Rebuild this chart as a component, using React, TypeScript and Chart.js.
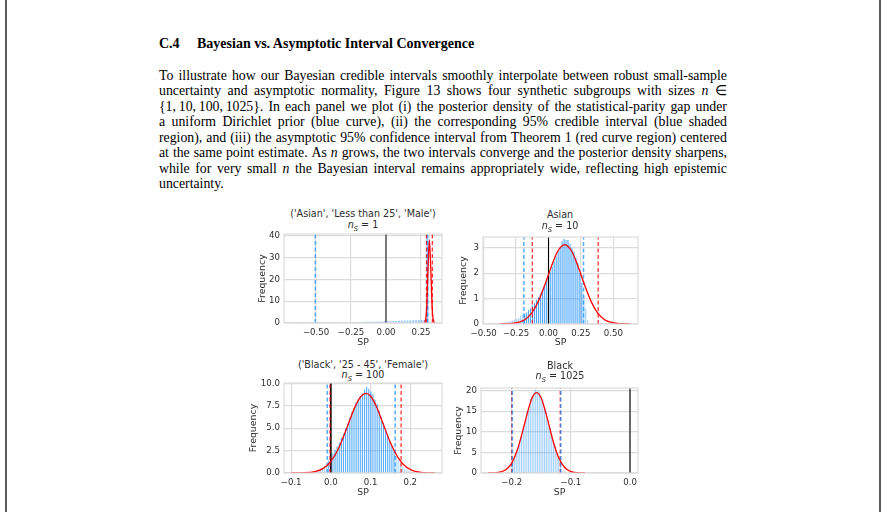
import React, { useEffect, useRef } from "react";
import { Chart, registerables } from "chart.js";

Chart.register(...registerables);

// ---------------- Text ----------------
const headingNum = "C.4";
const headingText = "Bayesian vs. Asymptotic Interval Convergence";
const bodyLines = [
  "To illustrate how our Bayesian credible intervals smoothly interpolate between robust small-sample",
  "uncertainty and asymptotic normality, Figure 13 shows four synthetic subgroups with sizes $n ∈",
  "{1,\u200910,\u2009100,\u20091025}. In each panel we plot (i) the posterior density of the statistical-parity gap under",
  "a uniform Dirichlet prior (blue curve), (ii) the corresponding 95% credible interval (blue shaded",
  "region), and (iii) the asymptotic 95% confidence interval from Theorem 1 (red curve region) centered",
  "at the same point estimate. As $n grows, the two intervals converge and the posterior density sharpens,",
  "while for very small $n the Bayesian interval remains appropriately wide, reflecting high epistemic",
  "uncertainty.",
];

// ---------------- Panel A ----------------
const titleA = "('Asian', 'Less than 25', 'Male')";
const nA = "1";
const histStartA = -0.689;
const binWidthA = 0.0203;
const histA = [
  0.03, 0.02, 0.04, 0.05, 0.05, 0.06, 0.08, 0.08, 0.1, 0.1, 0.12,
  0.15, 0.16, 0.18, 0.2, 0.22, 0.25, 0.27, 0.3, 0.32, 0.35,
  0.38, 0.4, 0.43, 0.46, 0.5, 0.52, 0.56, 0.6, 0.63, 0.66,
  0.7, 0.74, 0.78, 0.82, 0.86, 0.9, 0.95, 1.0, 1.04, 1.08,
  1.12, 1.16, 1.2, 1.25, 1.3, 1.35, 1.42,
  38.8, 0.4,
];
const curveXA = [0.27, 0.28, 0.29, 0.3, 0.31, 0.32, 0.33, 0.34, 0.35];
const curveYA = [0.03, 0.8, 6.5, 24.5, 38, 24.5, 6.5, 0.8, 0.03];
const credibleA = [-0.505, 0.298];
const asymptoticA = [0.289, 0.331];
const xRangeA = [-0.729, 0.4];
const yMaxA = 40.74;
const xTicksA = [-0.5, -0.25, 0, 0.25];
const yTicksA = [0, 10, 20, 30, 40];

// ---------------- Panel B ----------------
const titleB = "Asian";
const nB = "10";
const histStartB = -0.45;
const binWidthB = 0.0152;
const histB = [
  0.02, 0.0, 0.02, 0.03, 0.03, 0.05, 0.05, 0.07, 0.08, 0.1,
  0.12, 0.15, 0.18, 0.2, 0.25, 0.3, 0.35, 0.4, 0.45, 0.55,
  0.62, 0.72, 0.82, 0.95, 1.05, 1.2, 1.35, 1.5, 1.7, 1.9,
  2.05, 2.25, 2.45, 2.65, 2.85, 3.0, 3.25, 3.35, 3.3, 3.3,
  3.15, 3.0, 2.85, 2.6, 2.4, 2.0, 1.6, 1.1, 0.6, 0.15,
];
const curveXB = [-0.38, -0.33, -0.28, -0.23, -0.18, -0.13, -0.08, -0.03, 0.02, 0.07, 0.125, 0.18, 0.23, 0.28, 0.33, 0.38, 0.43, 0.48, 0.53, 0.58, 0.63];
const curveYB = [0.0, 0.01, 0.02, 0.07, 0.18, 0.43, 0.87, 1.51, 2.23, 2.85, 3.12, 2.85, 2.23, 1.51, 0.87, 0.43, 0.18, 0.07, 0.02, 0.01, 0.0];
const credibleB = [-0.19, 0.27];
const asymptoticB = [-0.125, 0.383];
const xRangeB = [-0.505, 0.69];
const yMaxB = 3.42;
const xTicksB = [-0.5, -0.25, 0, 0.25, 0.5];
const yTicksB = [0, 1, 2, 3];

// ---------------- Panel C ----------------
const titleC = "('Black', '25 - 45', 'Female')";
const nC = "100";
const histStartC = -0.045;
const binWidthC = 0.0053;
const histC = [
  0.05, 0.1, 0.2, 0.35, 0.6, 0.8, 1.0, 1.4, 1.8, 2.2,
  2.6, 3.0, 3.4, 3.9, 4.4, 5.0, 5.5, 6.2, 6.8, 7.3,
  7.9, 8.3, 8.6, 8.9, 9.3, 9.6, 9.4, 9.1, 8.8, 8.2,
  7.7, 7.0, 6.3, 5.6, 4.9, 4.3, 3.6, 3.0, 2.4, 1.9,
  1.4, 1.0, 0.7, 0.45, 0.3, 0.2, 0.12, 0.07, 0.04, 0.02,
];
const curveXC = [-0.1, -0.07, -0.04, -0.02, 0.0, 0.02, 0.04, 0.06, 0.075, 0.088, 0.1, 0.115, 0.13, 0.15, 0.17, 0.19, 0.21, 0.235, 0.262];
const curveYC = [0.0, 0.02, 0.15, 0.49, 1.3, 2.8, 5.0, 7.3, 8.5, 8.9, 8.6, 7.4, 5.7, 3.4, 1.67, 0.66, 0.22, 0.04, 0.0];
const credibleC = [-0.009, 0.162];
const asymptoticC = [-0.002, 0.177];
const xRangeC = [-0.118, 0.28];
const yMaxC = 10.05;
const xTicksC = [-0.1, 0, 0.1, 0.2];
const yTicksC = [0, 2.5, 5, 7.5, 10];

// ---------------- Panel D ----------------
const titleD = "Black";
const nD = "1025";
const histStartD = -0.2;
const binWidthD = 0.003;
const histD = [
  2.7, 3.9, 5.1, 6.0, 7.9, 9.1, 11.2, 12.6, 14.9, 16.0,
  17.9, 18.6, 19.9, 20.3, 19.8, 19.9, 18.7, 17.9, 16.1, 14.8,
  12.7, 11.1, 9.4, 7.5, 6.3, 4.8, 3.9, 2.8,
];
const curveXD = [-0.24, -0.225, -0.21, -0.2, -0.19, -0.18, -0.17, -0.165, -0.158, -0.15, -0.14, -0.13, -0.12, -0.11, -0.1, -0.09, -0.076];
const curveYD = [0.0, 0.09, 0.78, 2.4, 5.8, 11.0, 16.4, 18.4, 19.5, 18.1, 13.3, 7.7, 3.5, 1.27, 0.35, 0.08, 0.0];
const credibleD = [-0.199, -0.117];
const asymptoticD = [-0.2, -0.118];
const xRangeD = [-0.252, 0.0135];
const yMaxD = 20.6;
const xTicksD = [-0.2, -0.1, 0];
const yTicksD = [0, 5, 10, 15, 20];

// ---------------- Specs (built from the arrays) ----------------
type Spec = {
  title: string; n: string;
  histStart: number; binWidth: number; hist: number[];
  curveX: number[]; curveY: number[];
  credible: number[]; asymptotic: number[];
  xRange: number[]; yMax: number;
  xTicks: number[]; yTicks: number[]; xDec: number; yDec: number;
};
const specA: Spec = { title: titleA, n: nA, histStart: histStartA, binWidth: binWidthA, hist: histA, curveX: curveXA, curveY: curveYA, credible: credibleA, asymptotic: asymptoticA, xRange: xRangeA, yMax: yMaxA, xTicks: xTicksA, yTicks: yTicksA, xDec: 2, yDec: 0 };
const specB: Spec = { title: titleB, n: nB, histStart: histStartB, binWidth: binWidthB, hist: histB, curveX: curveXB, curveY: curveYB, credible: credibleB, asymptotic: asymptoticB, xRange: xRangeB, yMax: yMaxB, xTicks: xTicksB, yTicks: yTicksB, xDec: 2, yDec: 0 };
const specC: Spec = { title: titleC, n: nC, histStart: histStartC, binWidth: binWidthC, hist: histC, curveX: curveXC, curveY: curveYC, credible: credibleC, asymptotic: asymptoticC, xRange: xRangeC, yMax: yMaxC, xTicks: xTicksC, yTicks: yTicksC, xDec: 1, yDec: 1 };
const specD: Spec = { title: titleD, n: nD, histStart: histStartD, binWidth: binWidthD, hist: histD, curveX: curveXD, curveY: curveYD, credible: credibleD, asymptotic: asymptoticD, xRange: xRangeD, yMax: yMaxD, xTicks: xTicksD, yTicks: yTicksD, xDec: 1, yDec: 0 };

// ---------------- Layout / style ----------------
type Layout = {
  left: number; top: number; w: number; h: number;
  yAxisW: number; xAxisH: number; padTop: number; padRight: number;
  titleCx: number; title1Cy: number; title2Cy: number;
  barIn: string; barOut: string; barFrac: number;
  zeroColor: string; zeroWidth: number;
};
const layoutA: Layout = { left: 257, top: 224, w: 199, h: 124, yAxisW: 27, xAxisH: 25, padTop: 10, padRight: 14, titleCx: 363, title1Cy: 214, title2Cy: 225, barIn: "rgba(30,144,255,0.55)", barOut: "rgba(30,144,255,0.38)", barFrac: 0.6, zeroColor: "rgba(0,0,0,0.6)", zeroWidth: 1.6 };
const layoutB: Layout = { left: 458, top: 227, w: 194, h: 121, yAxisW: 25, xAxisH: 24, padTop: 10, padRight: 14, titleCx: 560, title1Cy: 215, title2Cy: 226, barIn: "rgba(30,144,255,0.8)", barOut: "rgba(30,144,255,0.45)", barFrac: 0.55, zeroColor: "#000", zeroWidth: 1.1 };
const layoutC: Layout = { left: 248, top: 373, w: 208, h: 125, yAxisW: 36, xAxisH: 25, padTop: 10, padRight: 14, titleCx: 363, title1Cy: 365, title2Cy: 375, barIn: "rgba(30,144,255,0.72)", barOut: "rgba(30,144,255,0.38)", barFrac: 0.55, zeroColor: "#000", zeroWidth: 1.6 };
const layoutD: Layout = { left: 453, top: 378, w: 199, h: 120, yAxisW: 28, xAxisH: 25, padTop: 10, padRight: 14, titleCx: 560, title1Cy: 366, title2Cy: 376, barIn: "rgba(30,144,255,0.42)", barOut: "rgba(30,144,255,0.25)", barFrac: 0.6, zeroColor: "#000", zeroWidth: 1.1 };

const SANS = "'DejaVu Sans', sans-serif";
const SERIF = "'Liberation Serif', 'Times New Roman', serif";
const GRID = "#dcdcdc";
const TEXT = "#2e2e2e";
const BLUE_DASH = "rgba(30,144,255,0.75)";
const RED_DASH = "rgba(255,0,0,0.85)";
const DASH = [4, 2.5];

const fmt = (v: number, dec: number) => {
  const s = Math.abs(v).toFixed(dec);
  return (v < -1e-9 ? "\u2212" : "") + s;
};

const framePlugin = {
  id: "frame",
  afterDatasetsDraw(chart: any) {
    const { ctx, chartArea: a } = chart;
    ctx.save();
    ctx.strokeStyle = GRID;
    ctx.lineWidth = 1.2;
    ctx.strokeRect(a.left, a.top, a.right - a.left, a.bottom - a.top);
    ctx.restore();
  },
};

function Panel({ spec, layout }: { spec: Spec; layout: Layout }) {
  const ref = useRef<HTMLCanvasElement | null>(null);
  useEffect(() => {
    const canvas = ref.current;
    if (!canvas) return;
    const centers = spec.hist.map((_, i) => spec.histStart + (i + 0.5) * spec.binWidth);
    const barData = spec.hist.map((h, i) => ({ x: centers[i], y: h }));
    const barColors = centers.map((c) =>
      c >= spec.credible[0] && c <= spec.credible[1] ? layout.barIn : layout.barOut
    );
    const vline = (x: number, color: string, dash: number[], width: number, order: number) => ({
      type: "line" as const,
      data: [{ x, y: 0 }, { x, y: spec.yMax }],
      borderColor: color,
      borderWidth: width,
      borderDash: dash,
      pointRadius: 0,
      fill: false,
      order,
    });
    const curve = spec.curveX.map((x, i) => ({ x, y: spec.curveY[i] }));
    const chart = new Chart(canvas, {
      type: "bar",
      data: {
        datasets: [
          {
            type: "bar",
            data: barData,
            backgroundColor: barColors,
            borderWidth: 0,
            barPercentage: 1,
            categoryPercentage: layout.barFrac,
            order: 9,
          } as any,
          vline(0, layout.zeroColor, [], layout.zeroWidth, 8),
          vline(spec.credible[0], BLUE_DASH, DASH, 1.5, 6),
          vline(spec.credible[1], BLUE_DASH, DASH, 1.5, 6),
          vline(spec.asymptotic[0], RED_DASH, DASH, 1.2, 7),
          vline(spec.asymptotic[1], RED_DASH, DASH, 1.2, 7),
          {
            type: "line",
            data: curve,
            borderColor: "#ff0000",
            borderWidth: 1.3,
            pointRadius: 0,
            fill: false,
            cubicInterpolationMode: "monotone",
            order: 1,
          } as any,
        ],
      },
      options: {
        animation: false,
        responsive: false,
        devicePixelRatio: 1,
        layout: { padding: { top: layout.padTop, right: layout.padRight, left: 0, bottom: 0 } },
        plugins: { legend: { display: false }, tooltip: { enabled: false }, title: { display: false } },
        scales: {
          x: {
            type: "linear",
            min: spec.xRange[0],
            max: spec.xRange[1],
            offset: false,
            grid: { color: GRID, lineWidth: 1.2, drawTicks: false, offset: false },
            border: { display: false },
            ticks: {
              font: { family: SANS, size: 8.6 },
              color: TEXT,
              padding: 4.5,
              maxRotation: 0,
              autoSkip: false,
              callback: (v: any) => fmt(Number(v), spec.xDec),
            },
            title: { display: true, text: "SP", font: { family: SANS, size: 9.4 }, color: TEXT, padding: 0 },
            afterBuildTicks: (s: any) => {
              s.ticks = spec.xTicks.map((v) => ({ value: v }));
            },
            afterFit: (s: any) => {
              s.height = layout.xAxisH;
            },
          },
          y: {
            type: "linear",
            min: 0,
            max: spec.yMax,
            grid: { color: GRID, lineWidth: 1.2, drawTicks: false },
            border: { display: false },
            ticks: {
              font: { family: SANS, size: 8.6 },
              color: TEXT,
              padding: 4,
              autoSkip: false,
              callback: (v: any) => fmt(Number(v), spec.yDec),
            },
            title: { display: true, text: "Frequency", font: { family: SANS, size: 9.4 }, color: TEXT, padding: 0 },
            afterBuildTicks: (s: any) => {
              s.ticks = spec.yTicks.map((v) => ({ value: v }));
            },
            afterFit: (s: any) => {
              s.width = layout.yAxisW;
            },
          },
        },
      } as any,
      plugins: [framePlugin],
    });
    return () => chart.destroy();
  }, [spec, layout]);

  const titleStyle = (cy: number): React.CSSProperties => ({
    position: "absolute",
    left: layout.titleCx - 110,
    width: 220,
    top: cy - 6,
    height: 12,
    lineHeight: "11px",
    textAlign: "center",
    fontFamily: SANS,
    fontSize: 9.6,
    color: TEXT,
    whiteSpace: "nowrap",
  });

  return (
    <>
      <div style={titleStyle(layout.title1Cy)}>{spec.title}</div>
      <div style={titleStyle(layout.title2Cy)}>
        <i>n</i>
        <i style={{ fontSize: "70%", position: "relative", top: "2.5px" }}>S</i>
        {" = " + spec.n}
      </div>
      <canvas
        ref={ref}
        width={layout.w}
        height={layout.h}
        style={{ position: "absolute", left: layout.left, top: layout.top, width: layout.w, height: layout.h }}
      />
    </>
  );
}

function BodyLine({ text, top, last }: { text: string; top: number; last: boolean }) {
  const words = text.split(" ");
  const render = (w: string, i: number) =>
    w === "$n" ? (
      <span key={i}><i>n</i></span>
    ) : (
      <span key={i}>{w}</span>
    );
  return (
    <div
      style={{
        position: "absolute",
        left: 159,
        top,
        width: last ? "auto" : 568,
        height: 16,
        lineHeight: "15.3px",
        fontFamily: SERIF,
        fontSize: 13.8,
        color: "#000",
        display: "flex",
        justifyContent: last ? "flex-start" : "space-between",
        whiteSpace: "nowrap",
        gap: last ? 4 : 0,
      }}
    >
      {words.map(render)}
    </div>
  );
}

export default function App() {
  return (
    <div
      style={{
        position: "fixed",
        left: 0,
        top: 0,
        width: 887,
        height: 512,
        background: "#fff",
        overflow: "hidden",
      }}
    >
      <div style={{ position: "absolute", left: 5, top: 0, width: 2, height: 512, background: "#5a5a5a" }} />
      <div style={{ position: "absolute", left: 879, top: 0, width: 2, height: 512, background: "#5a5a5a" }} />
      <div style={{ position: "absolute", left: 159, top: 36, lineHeight: "16px", fontFamily: SERIF, fontSize: 14, fontWeight: "bold", whiteSpace: "nowrap" }}>
        {headingNum}
      </div>
      <div style={{ position: "absolute", left: 197, top: 36, lineHeight: "16px", fontFamily: SERIF, fontSize: 14, fontWeight: "bold", whiteSpace: "nowrap" }}>
        {headingText}
      </div>
      {bodyLines.map((t, i) => (
        <BodyLine key={i} text={t} top={68 + i * 15.45} last={i === bodyLines.length - 1} />
      ))}
      <Panel spec={specA} layout={layoutA} />
      <Panel spec={specB} layout={layoutB} />
      <Panel spec={specC} layout={layoutC} />
      <Panel spec={specD} layout={layoutD} />
    </div>
  );
}
